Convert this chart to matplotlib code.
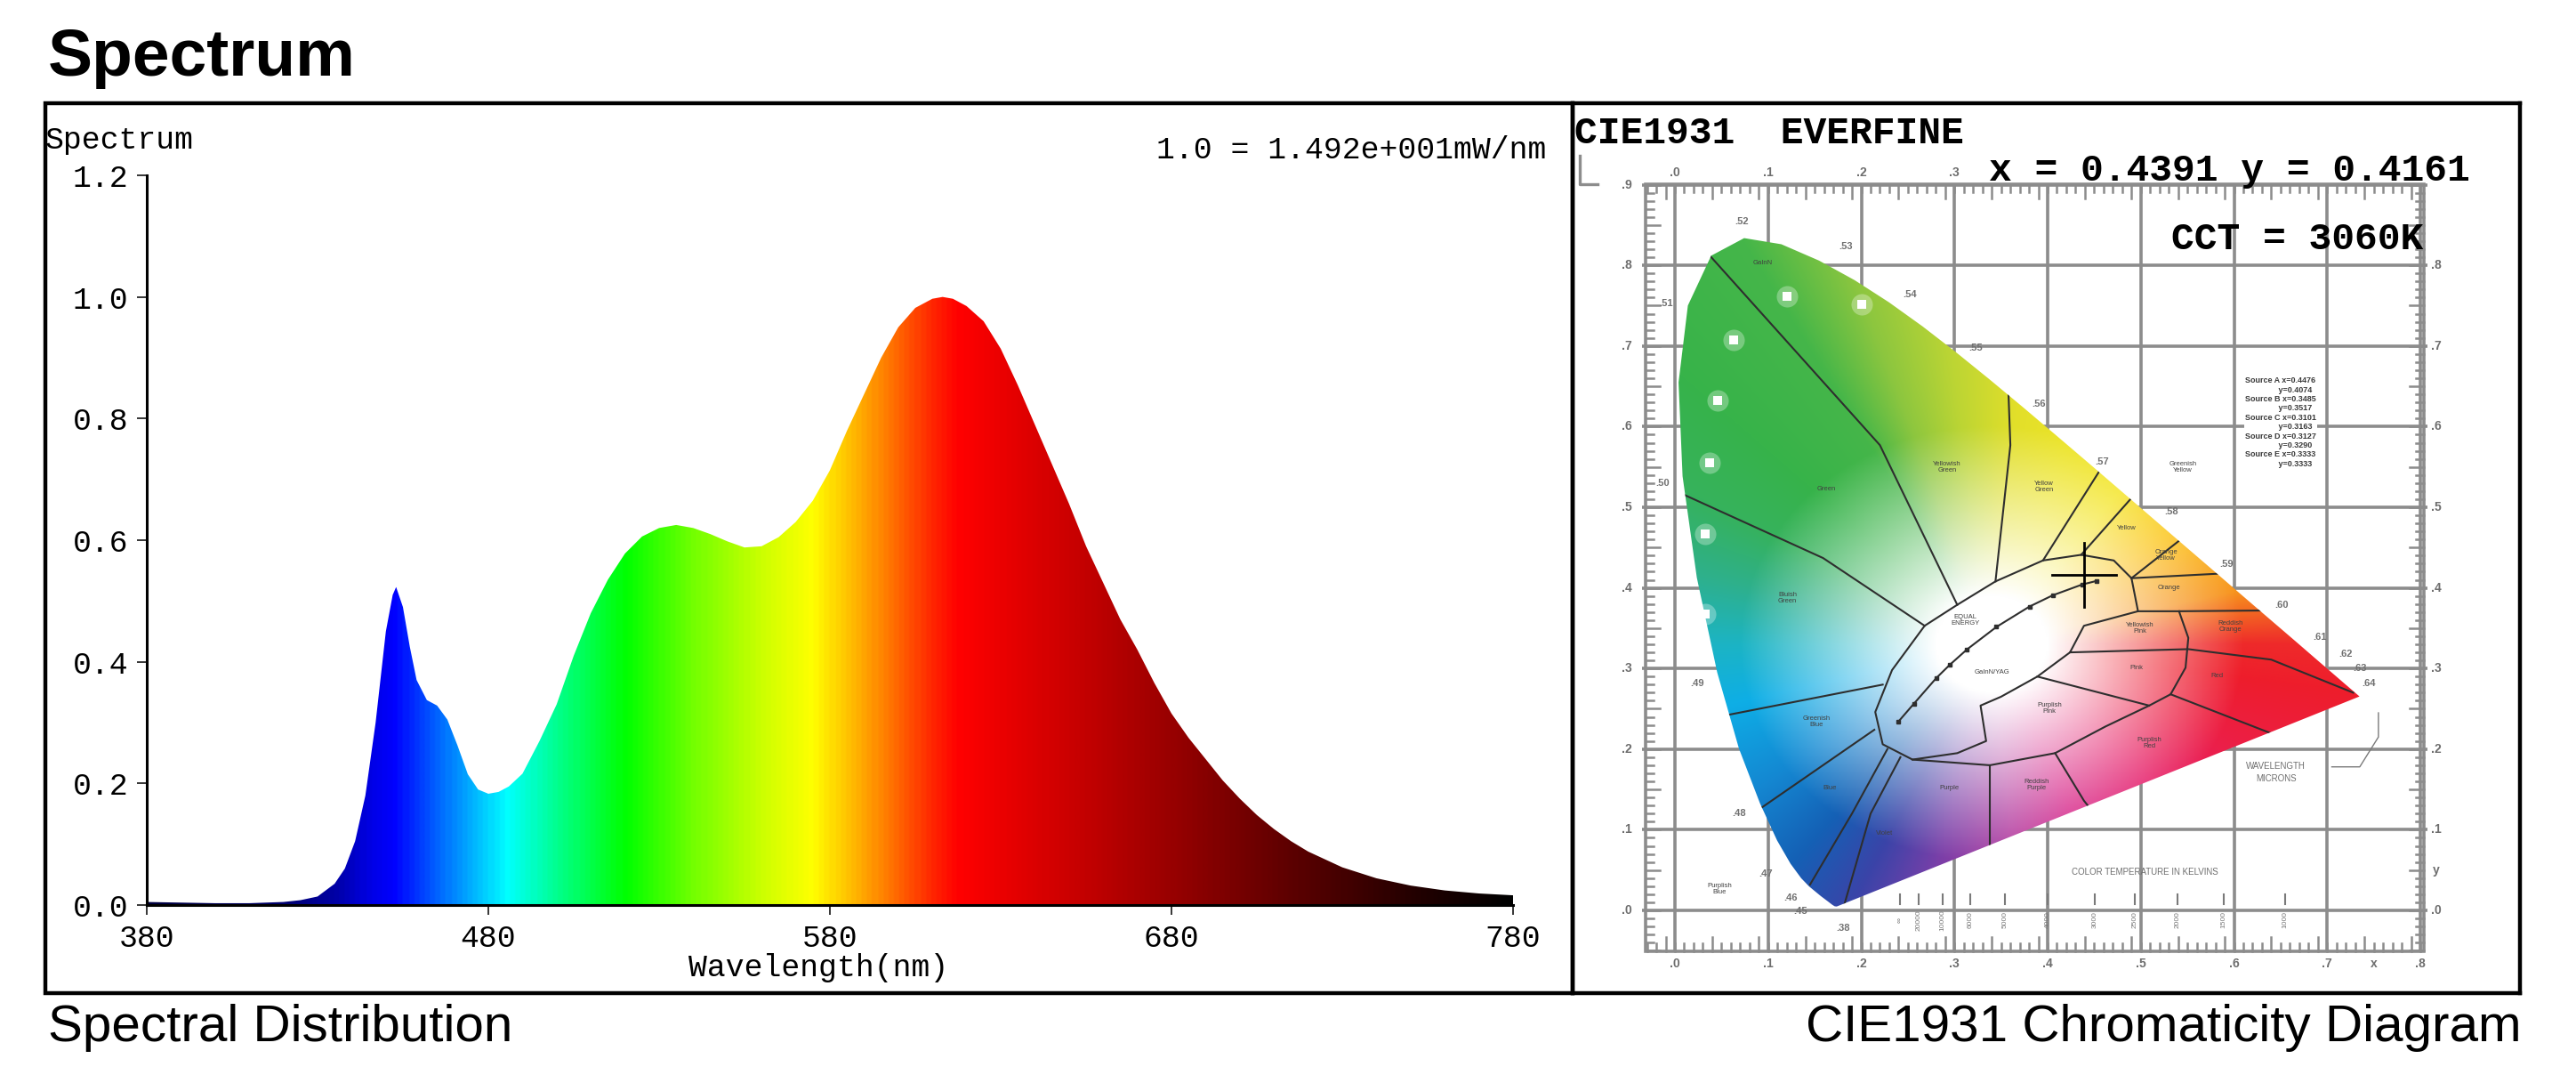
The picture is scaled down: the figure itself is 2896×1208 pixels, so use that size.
import numpy as np
import matplotlib
matplotlib.use("Agg")
import matplotlib.pyplot as plt
from matplotlib.patches import Polygon, Rectangle
from matplotlib.colors import LinearSegmentedColormap, to_rgb

MONO = "Liberation Mono"
SANS = "Liberation Sans"
plt.rcParams["font.family"] = [MONO, "DejaVu Sans"]

# ---- spectrum (relative) ----
WAVELENGTH = [380, 390, 400, 410, 420, 425, 430, 435, 438, 441, 444, 447, 450, 452, 453,
              455, 457, 459, 462, 465, 468, 471, 474, 477, 480, 483, 486, 490, 495, 500,
              505, 510, 515, 520, 525, 530, 535, 540, 545, 550, 555, 560, 565, 570, 575,
              580, 585, 590, 595, 600, 605, 610, 613, 616, 620, 625, 630, 635, 640, 645,
              650, 655, 660, 665, 670, 675, 680, 685, 690, 695, 700, 705, 710, 715, 720,
              730, 740, 750, 760, 770, 780]
RELATIVE = [0.005, 0.004, 0.003, 0.003, 0.005, 0.008, 0.014, 0.035, 0.06, 0.105, 0.18, 0.30, 0.45, 0.51, 0.523,
            0.49, 0.425, 0.37, 0.337, 0.328, 0.305, 0.262, 0.215, 0.19, 0.183, 0.186, 0.195, 0.216, 0.27, 0.33,
            0.41, 0.48, 0.535, 0.578, 0.606, 0.62, 0.625, 0.62, 0.61, 0.598, 0.588, 0.59, 0.605, 0.63, 0.665,
            0.715, 0.78, 0.84, 0.90, 0.95, 0.982, 0.997, 1.0, 0.997, 0.985, 0.96, 0.915, 0.855, 0.79, 0.725,
            0.66, 0.59, 0.53, 0.47, 0.42, 0.365, 0.315, 0.275, 0.24, 0.205, 0.175, 0.148, 0.125, 0.105, 0.088,
            0.062, 0.044, 0.032, 0.024, 0.019, 0.016]
X_TICKS = [380, 480, 580, 680, 780]
Y_TICKS = [0.0, 0.2, 0.4, 0.6, 0.8, 1.0, 1.2]

GRAD_WL = [380, 420, 435, 445, 452, 460, 470, 485, 500, 520, 540, 560, 575, 590, 600, 610, 618, 650, 680, 710, 750, 780]
GRAD_COLORS = ["#000040", "#000070", "#0000a8", "#0000e6", "#0000ff", "#0040ff", "#008cff", "#00ffff",
               "#00ff8c", "#00ff00", "#73ff00", "#ccff00", "#ffff00", "#ffa600", "#ff6600", "#ff2600",
               "#ff0000", "#cc0000", "#990000", "#660000", "#260000", "#000000"]

# ---- CIE 1931 diagram ----
LOCUS_WL = [380, 400, 420, 430, 440, 450, 460, 465, 470, 475, 480, 485, 490, 495, 500, 505, 510,
            515, 520, 525, 530, 535, 540, 545, 550, 555, 560, 565, 570, 575, 580, 585, 590, 595,
            600, 610, 620, 630, 640, 650, 660, 680, 700]
LOCUS_X = [0.1741, 0.1733, 0.1714, 0.1689, 0.1644, 0.1566, 0.1440, 0.1355, 0.1241, 0.1096, 0.0913,
           0.0687, 0.0454, 0.0235, 0.0082, 0.0039, 0.0139, 0.0389, 0.0743, 0.1142, 0.1547, 0.1929,
           0.2296, 0.2658, 0.3016, 0.3373, 0.3731, 0.4087, 0.4441, 0.4788, 0.5125, 0.5448, 0.5752,
           0.6029, 0.6270, 0.6658, 0.6915, 0.7079, 0.7190, 0.7260, 0.7300, 0.7334, 0.7347]
LOCUS_Y = [0.0050, 0.0048, 0.0051, 0.0069, 0.0109, 0.0177, 0.0297, 0.0399, 0.0578, 0.0868, 0.1327,
           0.2007, 0.2950, 0.4127, 0.5384, 0.6548, 0.7502, 0.8120, 0.8338, 0.8262, 0.8059, 0.7816,
           0.7543, 0.7243, 0.6923, 0.6589, 0.6245, 0.5896, 0.5547, 0.5202, 0.4866, 0.4544, 0.4242,
           0.3965, 0.3725, 0.3340, 0.3083, 0.2920, 0.2809, 0.2740, 0.2700, 0.2666, 0.2653]

WHITE_POINT = (0.340, 0.330)
HUE_ANGLE = [0, 14, 35, 54, 72, 85, 97, 108, 118, 135, 150, 165, 180, 195, 215, 232, 245, 258, 275, 292, 315, 335, 351, 360]
HUE_COLOR = ["#ee2a2a", "#f7941d", "#fcc419", "#f4e526", "#ece428", "#e2df2a", "#bcd534", "#8cc63f",
             "#45b649", "#37b34a", "#36b25c", "#2eb08c", "#1cb4c4", "#0eaee6", "#1488d2", "#1560b5",
             "#3a44a8", "#7a3fa8", "#b33b9f", "#d62287", "#e6206a", "#ec1f45", "#ee1d2c", "#ee2a2a"]

MEAS_X, MEAS_Y, CCT = 0.4391, 0.4161, 3060

PLANCK_X = [0.2399, 0.2565, 0.2807, 0.2952, 0.3135, 0.3451, 0.3805, 0.4053, 0.4369, 0.4528]
PLANCK_Y = [0.2342, 0.2564, 0.2884, 0.3048, 0.3237, 0.3516, 0.3768, 0.3907, 0.4041, 0.4087]

WHITE_REGION = [(0.215, 0.246), (0.233, 0.298), (0.268, 0.353), (0.303, 0.379), (0.344, 0.408),
                (0.395, 0.434), (0.436, 0.441), (0.471, 0.434), (0.490, 0.412), (0.497, 0.371),
                (0.439, 0.353), (0.424, 0.320), (0.389, 0.290), (0.350, 0.265), (0.328, 0.254),
                (0.334, 0.210), (0.303, 0.195), (0.255, 0.187), (0.223, 0.206)]

BOUNDARIES = [
    [(0.005, 0.518), (0.159, 0.437), (0.268, 0.353)],
    [(0.0375, 0.812), (0.220, 0.577), (0.303, 0.379)],
    [(0.358, 0.640), (0.360, 0.577), (0.344, 0.408)],
    [(0.460, 0.553), (0.395, 0.434)],
    [(0.495, 0.518), (0.436, 0.441)],
    [(0.545, 0.462), (0.490, 0.412)],
    [(0.490, 0.412), (0.590, 0.418)],
    [(0.497, 0.371), (0.541, 0.371), (0.640, 0.372)],
    [(0.541, 0.371), (0.551, 0.338), (0.548, 0.301), (0.532, 0.268), (0.509, 0.254),
     (0.462, 0.228), (0.408, 0.195), (0.338, 0.180), (0.255, 0.187)],
    [(0.424, 0.320), (0.551, 0.324), (0.640, 0.311), (0.728, 0.270)],
    [(0.389, 0.290), (0.509, 0.254)],
    [(0.532, 0.268), (0.650, 0.215)],
    [(0.408, 0.195), (0.439, 0.136), (0.450, 0.120)],
    [(0.338, 0.180), (0.338, 0.060)],
    [(0.242, 0.190), (0.210, 0.120), (0.180, 0.000)],
    [(0.228, 0.200), (0.190, 0.120), (0.145, 0.032)],
    [(0.214, 0.224), (0.090, 0.125)],
    [(0.223, 0.280), (0.055, 0.242)],
]

WHITE_DOT_X = [0.120, 0.200, 0.063, 0.046, 0.037, 0.032, 0.032]
WHITE_DOT_Y = [0.762, 0.752, 0.707, 0.632, 0.555, 0.467, 0.368]

WL_LABELS = [".52", ".53", ".54", ".55", ".56", ".57", ".58", ".59", ".60", ".61", ".62", ".63", ".64",
             ".51", ".50", ".49", ".48", ".47", ".46", ".45", ".38"]
WL_LABEL_X = [0.072, 0.183, 0.252, 0.323, 0.390, 0.458, 0.533, 0.592, 0.651, 0.692, 0.720, 0.735, 0.745,
              -0.010, -0.013, 0.024, 0.069, 0.097, 0.124, 0.135, 0.180]
WL_LABEL_Y = [0.854, 0.823, 0.764, 0.698, 0.628, 0.556, 0.495, 0.429, 0.379, 0.339, 0.318, 0.300, 0.282,
              0.753, 0.530, 0.282, 0.120, 0.045, 0.016, -0.001, -0.022]

REGION_NAMES = ["Green", "Yellowish\nGreen", "Yellow\nGreen", "GaInN", "Bluish\nGreen", "Greenish\nYellow",
                "Yellow", "Orange\nYellow", "Orange", "Reddish\nOrange", "Yellowish\nPink", "Pink", "Red",
                "Purplish\nPink", "Purplish\nRed", "Greenish\nBlue", "Blue", "Purple", "Reddish\nPurple",
                "Violet", "Purplish\nBlue", "EQUAL\nENERGY", "GaInN/YAG"]
REGION_X = [0.163, 0.292, 0.396, 0.094, 0.121, 0.545, 0.485, 0.527, 0.530, 0.596, 0.499, 0.495, 0.582,
            0.402, 0.509, 0.152, 0.166, 0.294, 0.388, 0.225, 0.048, 0.312, 0.340]
REGION_Y = [0.523, 0.550, 0.525, 0.803, 0.387, 0.550, 0.474, 0.440, 0.400, 0.352, 0.350, 0.301, 0.291,
            0.251, 0.207, 0.234, 0.152, 0.152, 0.156, 0.095, 0.026, 0.360, 0.295]

TEMP_X = [0.242, 0.262, 0.287, 0.317, 0.354, 0.400, 0.451, 0.494, 0.539, 0.589, 0.655]
TEMP_LABELS = ["\u221e", "20000", "10000", "6000", "5000", "4000", "3000", "2500", "2000", "1500", "1000"]

SOURCES = ["Source A", "Source B", "Source C", "Source D", "Source E"]
SOURCE_X = [0.4476, 0.3485, 0.3101, 0.3127, 0.3333]
SOURCE_Y = [0.4074, 0.3517, 0.3163, 0.3290, 0.3333]

GRID = "#8c8c8c"
W, H = 2896, 1208


def fx(px):
    return px / W


def fy(py):
    return 1 - py / H


fig = plt.figure(figsize=(W / 100, H / 100), dpi=100)
fig.patch.set_facecolor("white")

fig.text(fx(54), fy(85), "Spectrum", fontsize=54, fontweight="bold", family=SANS, va="baseline")
fig.add_artist(Rectangle((fx(51), fy(1116)), fx(1768) - fx(51), fy(116) - fy(1116),
                         transform=fig.transFigure, fill=False, ec="black", lw=3.2))

# ---------------- spectrum panel ----------------
ax = fig.add_axes([fx(165), fy(1017), fx(1701) - fx(165), fy(197) - fy(1017)])
nodes = [(w - 380) / 400 for w in GRAD_WL]
cmap = LinearSegmentedColormap.from_list("spec", list(zip(nodes, GRAD_COLORS)))
grad = cmap(np.linspace(0, 1, 801))[None, :, :3]
im = ax.imshow(grad, extent=[380, 780, 0, 1.2], origin="lower", aspect="auto",
               interpolation="bilinear", zorder=1)
verts = np.column_stack([[380] + WAVELENGTH + [780], [0] + RELATIVE + [0]])
clip = Polygon(verts, closed=True, fc="none", ec="none")
ax.add_patch(clip)
im.set_clip_path(clip)

ax.set_xlim(380, 780)
ax.set_ylim(0, 1.2)
for s in ["top", "right"]:
    ax.spines[s].set_visible(False)
for s in ["left", "bottom"]:
    ax.spines[s].set_linewidth(2.2)
ax.set_xticks(X_TICKS)
ax.set_xticklabels([str(v) for v in X_TICKS])
ax.set_yticks(Y_TICKS)
ax.set_yticklabels(["%.1f" % v for v in Y_TICKS])
ax.tick_params(direction="out", length=8, width=1.1, labelsize=25, pad=7)

fig.text(fx(51), fy(158), "Spectrum", fontsize=25, va="center", ha="left")
fig.text(fx(1738), fy(168), "1.0 = 1.492e+001mW/nm", fontsize=25, va="center", ha="right")
fig.text(fx(920), fy(1087), "Wavelength(nm)", fontsize=25, va="center", ha="center")

fig.text(fx(54), fy(1170), "Spectral Distribution", fontsize=42, family=SANS, va="baseline")
fig.text(fx(2835), fy(1170), "CIE1931 Chromaticity Diagram", fontsize=42, family=SANS,
         va="baseline", ha="right")

# ---------------- CIE panel ----------------
cx = fig.add_axes([fx(1768), fy(1116), fx(2833) - fx(1768), fy(116) - fy(1116)])
cx.set_xlim((1768 - 1883) / 1047.5, (2833 - 1883) / 1047.5)
cx.set_ylim((1023 - 1116) / 906, (1023 - 116) / 906)
cx.set_xticks([])
cx.set_yticks([])
for s in cx.spines.values():
    s.set_linewidth(3.2)

x0, x1, y0, y1 = -0.0315, 0.8035, -0.0504, 0.9007
for g in np.arange(0, 0.81, 0.1):
    cx.plot([g, g], [y0, y1], color=GRID, lw=2.6, zorder=1, solid_capstyle="butt")
for g in np.arange(0, 0.91, 0.1):
    cx.plot([x0 - 0.004, x1 + 0.004], [g, g], color=GRID, lw=2.6, zorder=1, solid_capstyle="butt")
cx.add_patch(Rectangle((x0, y0), x1 - x0, y1 - y0, fill=False, ec=GRID, lw=2.6, zorder=1))

dx, dy = 1 / 1047.5, 1 / 906
for i, v in enumerate(np.arange(-0.05, 0.901, 0.01)):
    ln = 16 if i % 5 == 0 else 9
    cx.plot([x0, x0 + ln * dx], [v, v], color=GRID, lw=1.8, zorder=1)
    cx.plot([x1, x1 - ln * dx], [v, v], color=GRID, lw=1.8, zorder=1)
for i, v in enumerate(np.arange(-0.03, 0.801, 0.01)):
    ln = 16 if i % 5 == 2 else 9
    cx.plot([v, v], [y1, y1 - ln * dy], color=GRID, lw=1.8, zorder=1)
    cx.plot([v, v], [y0, y0 + ln * dy], color=GRID, lw=1.8, zorder=1)

lab = dict(fontsize=10, family=SANS, fontweight="bold", color="#6e6e6e", ha="center", va="center", zorder=2)
for i in range(10):
    cx.text(-0.0515, i / 10, ".%d" % i, **lab)
for i in range(9):
    # right ".9" sits under the readout text
    cx.text(0.817, i / 10, ".%d" % i, **lab)
    cx.text(i / 10, -0.066, ".%d" % i, **lab)
for i in range(4):
    # the rest of the top row is hidden under the readout text
    cx.text(i / 10, 0.915, ".%d" % i, **lab)
cx.text(0.75, -0.066, "x", **lab)
cx.text(0.817, 0.05, "y", **lab)
cx.plot([-0.1026, -0.1026, -0.083], [0.936, 0.9007, 0.9007], color=GRID, lw=2.4, zorder=1)

# colour field inside the spectral locus
locus = Polygon(np.column_stack([LOCUS_X, LOCUS_Y]), closed=True, fc="none", ec="none")
cx.add_patch(locus)
gx = np.linspace(0, 0.75, 600)
gy = np.linspace(0, 0.85, 680)
GX, GY = np.meshgrid(gx, gy)
ang = np.degrees(np.arctan2(GY - WHITE_POINT[1], GX - WHITE_POINT[0])) % 360
dist = np.hypot(GX - WHITE_POINT[0], GY - WHITE_POINT[1])
hue = np.array([to_rgb(c) for c in HUE_COLOR])
rgb = np.stack([np.interp(ang, HUE_ANGLE, hue[:, k]) for k in range(3)], axis=-1)
sat = np.clip((dist - 0.06) / 0.21, 0, 1)[..., None]
field = 1 - sat * (1 - rgb)
fim = cx.imshow(field, extent=[0, 0.75, 0, 0.85], origin="lower", aspect="auto",
                interpolation="bilinear", zorder=3)
fim.set_clip_path(locus)

for pts in BOUNDARIES:
    pts = np.array(pts)
    l, = cx.plot(pts[:, 0], pts[:, 1], color="#2e2e2e", lw=1.5, zorder=4)
    l.set_clip_path(locus)
cx.add_patch(Polygon(WHITE_REGION, closed=True, fill=False, ec="#2e2e2e", lw=1.5,
                     joinstyle="round", zorder=4))
cx.plot(PLANCK_X, PLANCK_Y, color="#2e2e2e", lw=1.5, marker="s", ms=3.5, zorder=4)

cx.scatter(WHITE_DOT_X, WHITE_DOT_Y, s=300, color="white", alpha=0.3, lw=0, zorder=5)
cx.scatter(WHITE_DOT_X, WHITE_DOT_Y, s=55, marker="s", color="white", lw=0, zorder=5)

for t, x, y in zip(WL_LABELS, WL_LABEL_X, WL_LABEL_Y):
    cx.text(x, y, t, fontsize=8, family=SANS, fontweight="bold", color="#707070",
            ha="center", va="center", zorder=5)
for t, x, y in zip(REGION_NAMES, REGION_X, REGION_Y):
    cx.text(x, y, t, fontsize=5.5, family=SANS, color="#404040", ha="center", va="center",
            linespacing=1.0, zorder=5)

for t, x in zip(TEMP_LABELS, TEMP_X):
    cx.plot([x, x], [0.008, 0.02], color="#7a7a7a", lw=1.5, zorder=2)
    cx.text(x, -0.012, t, fontsize=6, family=SANS, color="#7a7a7a", rotation=90,
            ha="center", va="center", zorder=2)
cx.text(0.504, 0.048, "COLOR TEMPERATURE IN KELVINS", fontsize=7, family=SANS,
        color="#6e6e6e", ha="center", va="center", zorder=2)
cx.text(0.645, 0.171, "WAVELENGTH\nMICRONS", fontsize=7, family=SANS, color="#6e6e6e",
        ha="center", va="center", linespacing=1.4, zorder=2)
cx.plot([0.755, 0.755, 0.735, 0.705], [0.245, 0.215, 0.178, 0.178], color="#7a7a7a", lw=1, zorder=2)

src = "\n".join("%s x=%.4f\n%s y=%.4f" % (n, sx, " " * 14, sy)
                for n, sx, sy in zip(SOURCES, SOURCE_X, SOURCE_Y))
cx.text(0.612, 0.662, src, fontsize=6.5, family=SANS, fontweight="bold", color="#3a3a3a",
        ha="left", va="top", linespacing=1.2, zorder=2,
        bbox=dict(fc="white", ec="none", pad=1))

# measured point
cx.plot([MEAS_X - 0.034, MEAS_X + 0.034], [MEAS_Y, MEAS_Y], color="black", lw=2, zorder=6)
cx.plot([MEAS_X, MEAS_X], [MEAS_Y - 0.04, MEAS_Y + 0.04], color="black", lw=2, zorder=6)

big = dict(fontsize=31, family=MONO, fontweight="bold", color="black", ha="left", va="center", zorder=8)
cx.text(-0.108, 0.9636, "CIE1931  EVERFINE", **big)
cx.text(0.337, 0.917, "x = %.4f y = %.4f" % (MEAS_X, MEAS_Y), **big)
cx.text(0.5327, 0.832, "CCT = %dK" % CCT, **big)

fig.savefig("out.png", dpi=100)
